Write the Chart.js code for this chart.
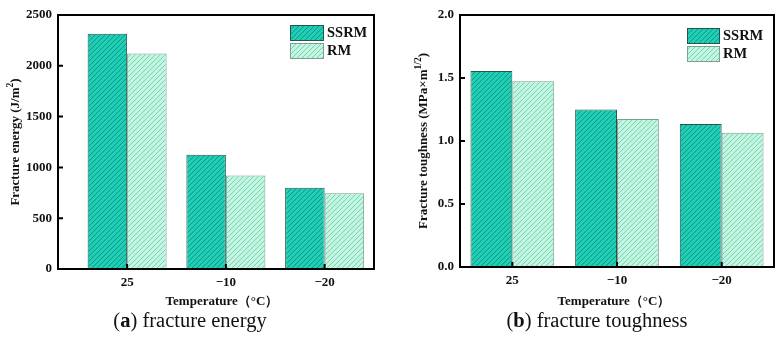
<!DOCTYPE html>
<html>
<head>
<meta charset="utf-8">
<script src="https://cdn.jsdelivr.net/npm/chart.js@4"></script>
<style>
  html, body { margin: 0; padding: 0; background: #fff; }
  #wrap { position: relative; width: 784px; height: 342px; overflow: hidden; }
  .pane { position: absolute; top: 0; width: 392px; height: 342px; }
  .caption { position: absolute; top: 309px; width: 392px; text-align: center;
    font-family: 'Liberation Serif', serif; font-size: 20.5px; color: #111; }
</style>
</head>
<body>
<div id="wrap">
  <div class="pane" style="left:0"><canvas id="energy" width="392" height="342"></canvas></div>
  <div class="pane" style="left:392px"><canvas id="tough" width="392" height="342"></canvas></div>
  <div class="caption" style="left:-6px">(<b>a</b>) fracture energy</div>
  <div class="caption" style="left:401px">(<b>b</b>) fracture toughness</div>
</div>
<script>
'use strict';

const TEMPERATURES = ['25', '\u221210', '\u221220'];
const ENERGY_SSRM = [2315, 1125, 800];
const ENERGY_RM = [2120, 920, 745];
const ENERGY_TICKS = [0, 500, 1000, 1500, 2000, 2500];
const TOUGH_SSRM = [1.555, 1.25, 1.135];
const TOUGH_RM = [1.475, 1.175, 1.065];
const TOUGH_TICKS = [0, 0.5, 1.0, 1.5, 2.0];
const SERIES = ['SSRM', 'RM'];

const TITLE_FONT = 'bold 13px "Liberation Serif", serif';
const SUP_FONT = 'bold 9.5px "Liberation Serif", serif';

function hatch(bg, line) {
  const c = document.createElement('canvas');
  c.width = 5;
  c.height = 5;
  const g = c.getContext('2d');
  g.fillStyle = bg;
  g.fillRect(0, 0, 5, 5);
  g.strokeStyle = line;
  g.lineWidth = 0.9;
  g.beginPath();
  g.moveTo(-1, 6); g.lineTo(6, -1);
  g.moveTo(-1, 1); g.lineTo(1, -1);
  g.moveTo(4, 6); g.lineTo(6, 4);
  g.stroke();
  return g.createPattern(c, 'repeat');
}

const SSRM_FILL = hatch('#1fcfb5', '#13907e');
const RM_FILL = hatch('#c0f7e1', '#7fc6ae');

// draw text pieces, where a piece marked sup is raised and smaller
function drawRich(ctx, parts, x, y) {
  let total = 0;
  parts.forEach((p) => {
    ctx.font = p.sup ? SUP_FONT : TITLE_FONT;
    p.w = ctx.measureText(p.t).width;
    total += p.w;
  });
  let cx = x - total / 2;
  parts.forEach((p) => {
    ctx.font = p.sup ? SUP_FONT : TITLE_FONT;
    ctx.fillText(p.t, cx, p.sup ? y - 5 : y);
    cx += p.w;
  });
}

const framePlugin = {
  id: 'frame',
  afterDraw(chart, args, opts) {
    const { ctx, chartArea: a } = chart;
    const xs = chart.scales.x;
    const ys = chart.scales.y;
    ctx.save();
    ctx.strokeStyle = '#000';
    ctx.lineWidth = 2;
    ctx.strokeRect(a.left, a.top, a.right - a.left, a.bottom - a.top);
    // inward ticks
    ctx.beginPath();
    ys.ticks.forEach((t, i) => {
      const y = ys.getPixelForTick(i);
      ctx.moveTo(a.left, y);
      ctx.lineTo(a.left + 5, y);
    });
    xs.ticks.forEach((t, i) => {
      const x = xs.getPixelForTick(i);
      ctx.moveTo(x, a.bottom);
      ctx.lineTo(x, a.bottom - 5);
    });
    ctx.stroke();

    // legend
    ctx.lineWidth = 1;
    ctx.font = 'bold 14.5px "Liberation Serif", serif';
    ctx.textBaseline = 'middle';
    ctx.textAlign = 'left';
    chart.data.datasets.forEach((ds, i) => {
      const lx = opts.legendX;
      const ly = opts.legendY + i * opts.legendGap;
      ctx.fillStyle = ds.backgroundColor;
      ctx.fillRect(lx, ly, opts.legendW, opts.legendH);
      ctx.strokeStyle = ds.borderColor;
      ctx.strokeRect(lx + 0.5, ly + 0.5, opts.legendW, opts.legendH);
      ctx.fillStyle = '#111';
      ctx.fillText(ds.label, lx + opts.legendW + 4, ly + opts.legendH / 2 + 1);
    });

    // axis titles
    ctx.fillStyle = '#111';
    ctx.textAlign = 'left';
    ctx.textBaseline = 'middle';
    drawRich(ctx, [{ t: 'Temperature\uFF08\u00B0C\uFF09' }], opts.xTitleX, 302);
    ctx.save();
    ctx.translate(opts.yTitleX, (a.top + a.bottom) / 2);
    ctx.rotate(-Math.PI / 2);
    drawRich(ctx, opts.yTitle, 0, 0);
    ctx.restore();
    ctx.restore();
  },
};

function makeChart(id, ssrm, rm, yTicks, yMax, xMin, area, frame, fmt) {
  const toPoints = (vals) => vals.map((v, i) => ({ x: i + 1, y: v }));
  return new Chart(document.getElementById(id), {
    type: 'bar',
    data: {
      datasets: [
        {
          label: SERIES[0],
          data: toPoints(ssrm),
          backgroundColor: SSRM_FILL,
          borderColor: '#27544c',
          borderWidth: 1,
        },
        {
          label: SERIES[1],
          data: toPoints(rm),
          backgroundColor: RM_FILL,
          borderColor: '#7f9e95',
          borderWidth: 1,
        },
      ],
    },
    options: {
      responsive: false,
      animation: false,
      events: [],
      layout: { padding: { left: 0, top: area.top, right: 392 - area.right, bottom: 0 } },
      datasets: { bar: { categoryPercentage: 0.8, barPercentage: 1.0 } },
      plugins: {
        legend: { display: false },
        tooltip: { enabled: false },
        frame,
      },
      scales: {
        x: {
          type: 'linear',
          min: xMin,
          max: 3.5,
          offset: false,
          grid: { display: false, drawTicks: false, offset: false },
          border: { display: false },
          afterBuildTicks: (s) => { s.ticks = TEMPERATURES.map((_, i) => ({ value: i + 1 })); },
          afterFit: (s) => { s.height = 342 - area.bottom; },
          ticks: {
            padding: 6,
            color: '#111',
            font: { family: '"Liberation Serif", serif', size: 13, weight: 'bold' },
            callback: (v) => TEMPERATURES[Math.round(v) - 1],
          },
        },
        y: {
          min: 0,
          max: yMax,
          grid: { display: false, drawTicks: false },
          border: { display: false },
          afterBuildTicks: (s) => { s.ticks = yTicks.map((v) => ({ value: v })); },
          afterFit: (s) => { s.width = area.left; },
          ticks: {
            padding: 6,
            color: '#111',
            font: { family: '"Liberation Serif", serif', size: 13, weight: 'bold' },
            callback: fmt,
          },
        },
      },
    },
    plugins: [framePlugin],
  });
}

makeChart('energy', ENERGY_SSRM, ENERGY_RM, ENERGY_TICKS, 2500, 0.3,
  { left: 58, right: 374, top: 15, bottom: 269 },
  {
    legendX: 290, legendY: 25, legendGap: 18, legendW: 33, legendH: 15,
    xTitleX: 222, yTitleX: 16,
    yTitle: [{ t: 'Fracture energy (J/m' }, { t: '2', sup: true }, { t: ')' }],
  },
  (v) => String(v));

makeChart('tough', TOUGH_SSRM, TOUGH_RM, TOUGH_TICKS, 2.0, 0.5,
  { left: 68, right: 382, top: 15, bottom: 267 },
  {
    legendX: 295, legendY: 28, legendGap: 18, legendW: 32, legendH: 15,
    xTitleX: 222, yTitleX: 32,
    yTitle: [{ t: 'Fracture toughness (MPa\u00D7m' }, { t: '1/2', sup: true }, { t: ')' }],
  },
  (v) => v.toFixed(1));
</script>
</body>
</html>
